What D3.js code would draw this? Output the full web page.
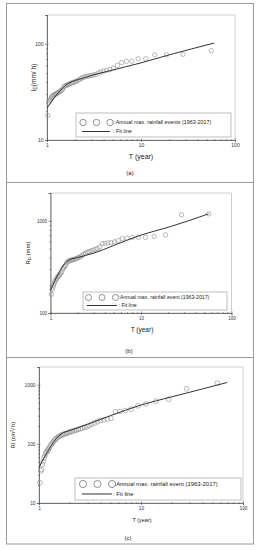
<!DOCTYPE html>
<html>
<head>
<meta charset="utf-8">
<script src="https://cdn.jsdelivr.net/npm/d3@7"></script>
<style>
  body { margin: 0; background: #fff; }
  svg { display: block; font-family: "Liberation Sans", Arial, sans-serif; }
</style>
</head>
<body>
<div id="chart"></div>
<script>
// Return period of each annual max. event (55 events, 1963-2017)
const returnPeriod = [56, 28, 18.67, 14, 11.2, 9.33, 8, 7, 6.22, 5.6,
  5.09, 4.67, 4.31, 4, 3.73, 3.5, 3.29, 3.11, 2.95, 2.8,
  2.67, 2.55, 2.43, 2.33, 2.24, 2.15, 2.07, 2, 1.93, 1.87,
  1.81, 1.75, 1.7, 1.65, 1.6, 1.56, 1.51, 1.47, 1.44, 1.4,
  1.37, 1.33, 1.3, 1.27, 1.24, 1.22, 1.19, 1.17, 1.14, 1.12,
  1.1, 1.08, 1.06, 1.04, 1.02];

// (a) intensity I_D (mm/h)
const intensity = [85, 78, 77, 77, 70, 70, 66, 66, 64, 60,
  56, 54, 53, 52, 51, 50, 48, 47.5, 47, 46.5,
  46, 45.5, 45, 44, 43, 42, 41, 40.5, 40, 39.5,
  39, 38.5, 38, 37.5, 37, 36.5, 36, 34, 33, 32.5,
  32, 31.5, 31, 30.5, 30, 30, 29.5, 29, 28.5, 28,
  27, 26, 25.5, 24.5, 18];

// (b) depth R_D (mm)
const depth = [1190, 1160, 703, 678, 661, 661, 661, 650, 640, 610,
  590, 580, 575, 570, 565, 520, 500, 490, 480, 470,
  465, 455, 445, 435, 420, 410, 400, 395, 390, 385,
  380, 378, 375, 372, 368, 360, 350, 330, 320, 310,
  300, 280, 270, 262, 255, 250, 245, 235, 230, 220,
  210, 200, 190, 180, 160];

// (c) RI (cm2/h)
const erosivity = [1069, 855, 572, 529, 476, 440, 387, 367, 355, 350,
  272, 262, 255, 248, 238, 226, 215, 205, 196, 190,
  185, 180, 176, 172, 168, 165, 162, 158, 155, 152,
  149, 146, 143, 140, 136, 132, 127, 122, 117, 112,
  106, 100, 95, 88, 82, 78, 74, 70, 64, 58,
  50, 45, 37, 35, 22];

// fit lines
const fitTa = [1, 1.55, 2.5, 5, 10, 20, 60];
const fitIa = [21.5, 36.5, 44.5, 53.5, 63.5, 77, 102];
const fitTb = [1, 1.57, 2, 3, 5, 10, 20, 56];
const fitRb = [176, 371, 400, 445, 540, 700, 850, 1190];
const fitTc = [1, 1.67, 2, 3, 5, 10, 20, 40, 70];
const fitRc = [40, 150, 168, 215, 300, 455, 625, 850, 1095];

// tick labels
const xTicks = [1, 10, 100];
const yTicksA = [10, 100];
const yTicksB = [100, 1000];
const yTicksC = [10, 100, 1000];

const width = 260, height = 550;

let svg = d3.select('#chart')
            .append('svg')
            .attr('width', width)
            .attr('height', height);

// outer frame with dividers
svg.append('rect')
   .attr('x', 6.5).attr('y', 3.5)
   .attr('width', 247).attr('height', 540.5)
   .attr('fill', 'none').attr('stroke', '#9a9a9a').attr('stroke-width', 1);
[182.5, 357.5].forEach(y => {
  svg.append('line')
     .attr('x1', 6.5).attr('x2', 253.5).attr('y1', y).attr('y2', y)
     .attr('stroke', '#9a9a9a');
});

function minorTicks(domain) {
  let out = [];
  for (let d = domain[0]; d < domain[1] * 1.0001; d *= 10) {
    for (let k = 1; k <= 9; k++) {
      let v = d * k;
      if (v >= domain[0] * 0.9999 && v <= domain[1] * 1.0001) out.push(v);
    }
  }
  return out;
}

function drawPanel(p) {
  const x = d3.scaleLog().domain([1, 100]).range([p.left, p.right]);
  const y = d3.scaleLog().domain(p.yDomain).range([p.bottom, p.top]);
  const g = svg.append('g');

  // plot frame
  g.append('rect')
   .attr('x', p.left).attr('y', p.top)
   .attr('width', p.right - p.left).attr('height', p.bottom - p.top)
   .attr('fill', 'none').attr('stroke', '#c4c4c4').attr('stroke-width', 0.8);

  const isMajor = v => Math.abs(Math.log10(v) - Math.round(Math.log10(v))) < 1e-6;

  let xaxis = g.append('g')
     .attr('transform', `translate(0,${p.bottom})`)
     .call(d3.axisBottom(x)
        .tickValues(minorTicks([1, 100]))
        .tickSize(2)
        .tickPadding(1.5)
        .tickFormat(d => xTicks.includes(d) ? d : ''));

  let yaxis = g.append('g')
     .attr('transform', `translate(${p.left},0)`)
     .call(d3.axisLeft(y)
        .tickValues(minorTicks([p.yDomain[0], p.yDomain[1]]))
        .tickSize(2)
        .tickPadding(1.5)
        .tickFormat(d => p.yTicks.includes(d) ? d : ''));

  [xaxis, yaxis].forEach(a => {
    a.select('.domain').attr('stroke', '#555').attr('stroke-width', 0.8);
    a.selectAll('.tick line').attr('stroke', '#555').attr('stroke-width', 0.6);
    a.selectAll('.tick text').attr('font-size', p.tickFont).attr('fill', '#333')
     .attr('font-family', '"Liberation Sans", Arial, sans-serif');
  });
  xaxis.selectAll('.tick line').attr('y1', d => isMajor(d) ? -1.5 : -0.8)
       .attr('y2', d => isMajor(d) ? 2 : 1);
  yaxis.selectAll('.tick line').attr('x1', d => isMajor(d) ? 1.5 : 0.8)
       .attr('x2', d => isMajor(d) ? -2 : -1);

  // data circles
  g.selectAll('circle.obs')
   .data(returnPeriod.map((t, i) => [t, p.values[i]]))
   .enter()
   .append('circle')
   .attr('class', 'obs')
   .attr('cx', d => x(d[0]))
   .attr('cy', d => y(d[1]))
   .attr('r', p.r)
   .attr('fill', 'none')
   .attr('stroke', '#8c8c8c')
   .attr('stroke-width', 0.6);

  // fit line
  const line = d3.line().x(d => x(d[0])).y(d => y(d[1])).curve(d3.curveMonotoneX);
  g.append('path')
   .datum(p.fitT.map((t, i) => [t, p.fitV[i]]))
   .attr('d', line)
   .attr('fill', 'none')
   .attr('stroke', '#333')
   .attr('stroke-width', 1);

  // axis titles
  g.append('text')
   .attr('x', p.xLabel[0]).attr('y', p.xLabel[1])
   .attr('text-anchor', 'middle')
   .attr('font-size', p.xLabelFont)
   .attr('fill', '#222')
   .text('T (year)');

  let yl = g.append('text')
   .attr('transform', `translate(${p.yLabel[0]},${(p.top + p.bottom) / 2}) rotate(-90)`)
   .attr('text-anchor', 'middle')
   .attr('font-size', p.yLabelFont)
   .attr('fill', '#222');
  p.yParts.forEach(part => {
    let ts = yl.append('tspan').text(part.t);
    if (part.sub) ts.attr('font-size', p.yLabelFont * 0.7).attr('dy', 1.2);
    if (part.sup) ts.attr('font-size', p.yLabelFont * 0.7).attr('dy', -2);
    if (part.back) ts.attr('dy', part.back);
  });

  // legend
  const L = p.legend;
  g.append('rect')
   .attr('x', L.x).attr('y', L.y).attr('width', L.w).attr('height', L.h)
   .attr('fill', '#fff').attr('stroke', '#b0b0b0').attr('stroke-width', 0.8);
  L.circles.forEach(cx => {
    g.append('circle')
     .attr('cx', cx).attr('cy', L.row1)
     .attr('r', L.r)
     .attr('fill', 'none').attr('stroke', '#666').attr('stroke-width', 0.7);
  });
  g.append('text')
   .attr('x', L.textX).attr('y', L.row1)
   .attr('dy', '0.35em')
   .attr('font-size', L.font).attr('fill', '#222')
   .text(p.legendText);
  g.append('line')
   .attr('x1', L.line[0]).attr('x2', L.line[1])
   .attr('y1', L.row2).attr('y2', L.row2)
   .attr('stroke', '#333').attr('stroke-width', 1);
  g.append('text')
   .attr('x', L.textX2).attr('y', L.row2)
   .attr('dy', '0.35em')
   .attr('font-size', L.font).attr('fill', '#222')
   .text(': Fit line');

  // caption
  g.append('text')
   .attr('x', p.caption[0]).attr('y', p.caption[1])
   .attr('text-anchor', 'middle')
   .attr('dy', '0.35em')
   .attr('font-size', 6)
   .attr('fill', '#222')
   .text(p.captionText);
}

drawPanel({
  left: 47, right: 235, top: 15, bottom: 140,
  yDomain: [10, 200], yTicks: yTicksA, values: intensity,
  fitT: fitTa, fitV: fitIa, r: 2.2, tickFont: 5,
  xLabel: [141, 158.5], xLabelFont: 7,
  yLabel: [36, 0], yLabelFont: 6.5,
  yParts: [{t: 'I'}, {t: 'D', sub: true}, {t: '(mm/ h)', back: -1.2}],
  legendText: ': Annual max. rainfall events (1963-2017)',
  legend: {x: 76, y: 113, w: 155, h: 24, row1: 122.5, row2: 131.5, r: 3.2,
           circles: [83, 96.5, 110], textX: 113, textX2: 113, line: [82, 110], font: 5.4},
  caption: [130, 173], captionText: '(a)'
});

drawPanel({
  left: 50.5, right: 231.5, top: 193, bottom: 313,
  yDomain: [100, 2000], yTicks: yTicksB, values: depth,
  fitT: fitTb, fitV: fitRb, r: 2.2, tickFont: 4.5,
  xLabel: [142, 332], xLabelFont: 6.5,
  yLabel: [30, 0], yLabelFont: 6,
  yParts: [{t: 'R'}, {t: 'D', sub: true}, {t: ' (mm)', back: -1.2}],
  legendText: ':Annual max. rainfall event (1963-2017)',
  legend: {x: 83, y: 292, w: 144, h: 18, row1: 297.5, row2: 305.5, r: 3,
           circles: [88.5, 102, 115.5], textX: 118.5, textX2: 118.5, line: [87, 117], font: 5.2},
  caption: [129, 351], captionText: '(b)'
});

drawPanel({
  left: 39, right: 243, top: 367, bottom: 503,
  yDomain: [10, 2000], yTicks: yTicksC, values: erosivity,
  fitT: fitTc, fitV: fitRc, r: 2.4, tickFont: 4.8,
  xLabel: [142, 521.5], xLabelFont: 5.5,
  yLabel: [15, 0], yLabelFont: 5.5,
  yParts: [{t: 'RI (cm'}, {t: '2', sup: true}, {t: '/ h)', back: 2}],
  legendText: ':Annual max. rainfall event (1963-2017)',
  legend: {x: 75, y: 478, w: 166, h: 22, row1: 484, row2: 494, r: 3.6,
           circles: [83, 97.5, 112], textX: 114.5, textX2: 113, line: [82, 112], font: 5.9},
  caption: [128, 538], captionText: '(c)'
});
</script>
</body>
</html>
